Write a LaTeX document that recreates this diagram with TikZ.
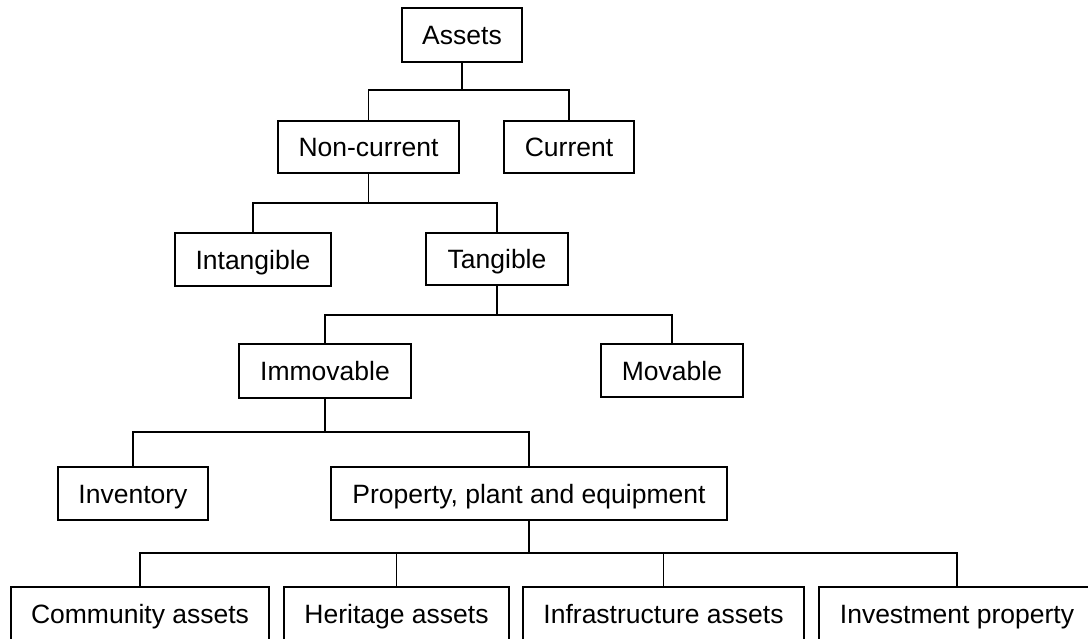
\documentclass[tikz,border=0pt]{standalone}
\usepackage{fontspec}
\setmainfont{Liberation Sans}
\begin{document}
\begin{tikzpicture}[x=1pt,y=-1pt,
  box/.style={draw=black, line width=1.8pt, fill=white, inner sep=0pt, align=center,
    text height=19pt, text depth=0pt,
    font=\fontsize{26.5}{30}\selectfont},
  link/.style={draw=black, line width=1.8pt}]
\clip (0,0) rectangle (1088,638);
\fill[white] (0,0) rectangle (1088,638);
% bars
\coordinate (b1) at (0,90);
\coordinate (b2) at (0,203);
\coordinate (b3) at (0,315);
\coordinate (b4) at (0,432);
\coordinate (b5) at (0,553);
% nodes
\node[box, minimum width=120pt, minimum height=54pt] (assets) at (462,35) {Assets};
\node[box, minimum width=181pt, minimum height=52pt] (noncur) at (368.5,147) {Non-current};
\node[box, minimum width=130pt, minimum height=52pt] (cur) at (569,147) {Current};
\node[box, minimum width=156pt, minimum height=53pt] (intang) at (253,259.5) {Intangible};
\node[box, minimum width=142pt, minimum height=52pt] (tang) at (497,259) {Tangible};
\node[box, minimum width=172pt, minimum height=54pt] (immov) at (325,371) {Immovable};
\node[box, minimum width=142pt, minimum height=53pt] (mov) at (672,370.5) {Movable};
\node[box, minimum width=150pt, minimum height=53pt] (inv) at (133,493.5) {Inventory};
\node[box, minimum width=396pt, minimum height=53pt] (ppe) at (529,493.5) {Property, plant and equipment};
\node[box, minimum width=258pt, minimum height=53pt] (comm) at (140,613.5) {Community assets};
\node[box, minimum width=225pt, minimum height=53pt] (herit) at (396.5,613.5) {Heritage assets};
\node[box, minimum width=281pt, minimum height=53pt] (infra) at (663.5,613.5) {Infrastructure assets};
\node[box, minimum width=276pt, minimum height=53pt] (invp) at (957,613.5) {Investment property};
% connectors
\draw[link] (assets.south) |- (noncur.north |- b1) -- (noncur.north);
\draw[link] (assets.south) |- (cur.north |- b1) -- (cur.north);
\draw[link] (noncur.south) |- (intang.north |- b2) -- (intang.north);
\draw[link] (noncur.south) |- (tang.north |- b2) -- (tang.north);
\draw[link] (tang.south) |- (immov.north |- b3) -- (immov.north);
\draw[link] (tang.south) |- (mov.north |- b3) -- (mov.north);
\draw[link] (immov.south) |- (inv.north |- b4) -- (inv.north);
\draw[link] (immov.south) |- (ppe.north |- b4) -- (ppe.north);
\draw[link] (ppe.south) |- (comm.north |- b5) -- (comm.north);
\draw[link] (ppe.south) |- (herit.north |- b5) -- (herit.north);
\draw[link] (ppe.south) |- (infra.north |- b5) -- (infra.north);
\draw[link] (ppe.south) |- (invp.north |- b5) -- (invp.north);
\end{tikzpicture}
\end{document}
